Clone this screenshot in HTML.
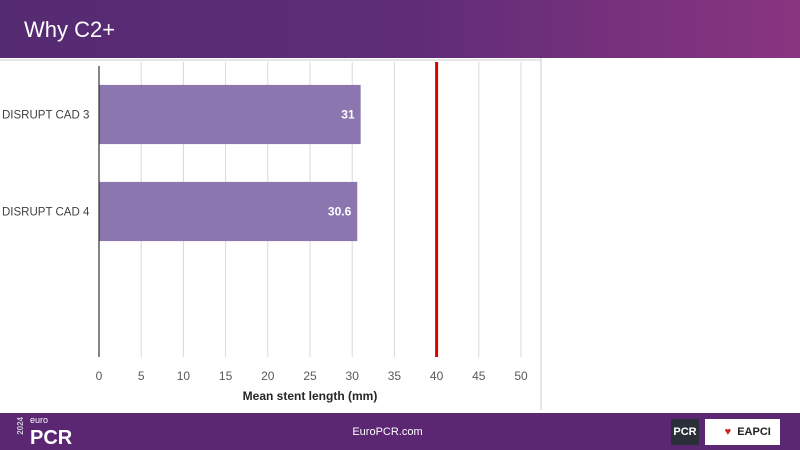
<!DOCTYPE html>
<html><head><meta charset="utf-8"><style>
body{margin:0;width:800px;height:450px;overflow:hidden;background:#fff;font-family:"Liberation Sans",sans-serif;position:relative}
#hdr{position:absolute;left:0;top:0;width:800px;height:58px;background:linear-gradient(90deg,#552b72 0%,#5e2c77 50%,#8a3580 100%)}
#hdr span{position:absolute;left:24px;top:17px;color:#fff;font-size:22px}
#ftr{position:absolute;left:0;top:413px;width:800px;height:37px;background:#5b2773}
</style></head><body>
<div id="hdr"><span>Why C2+</span></div>
<svg id="chart" width="800" height="450" style="position:absolute;left:0;top:0"></svg>
<div id="ftr">
<div style="position:absolute;left:16px;top:4px;color:#fff;font-weight:bold;font-size:20px"><span style="font-size:8px;writing-mode:vertical-rl;transform:rotate(180deg);display:inline-block;color:#ccc">2024</span><span style="font-size:9px;font-weight:normal;position:absolute;left:14px;top:-2px">euro</span><span style="position:absolute;left:14px;top:10px">PCR</span></div>
<div style="position:absolute;left:0;width:775px;text-align:center;top:13px;color:#fff;font-size:11px">EuroPCR.com</div>
<div style="position:absolute;left:671px;top:6px;width:28px;height:26px;background:#2a2f3a;color:#fff;font-size:11px;font-weight:bold;line-height:26px;text-align:center">PCR</div>
<div style="position:absolute;left:705px;top:6px;width:75px;height:26px;background:#fff;color:#222;font-size:11px;font-weight:bold;line-height:26px;text-align:right"><span style="color:#c22;margin-right:6px">♥</span>EAPCI&nbsp;&nbsp;&nbsp;</div>
</div>
<script>
const categories=["DISRUPT CAD 3","DISRUPT CAD 4",""];
const values=[31,30.6,null];
const valueLabels=["31","30.6",""];
const ticks=[0,5,10,15,20,25,30,35,40,45,50];
const refValue=40;
const NS="http://www.w3.org/2000/svg";
const svg=document.getElementById('chart');
const x0=99,x1=521,vmax=50,yTop=66,yBot=357;
const X=v=>x0+(v/vmax)*(x1-x0);
const band=(yBot-yTop)/categories.length;
const Y=i=>yTop+band*i;
function mk(t,a){const e=document.createElementNS(NS,t);for(const k in a)e.setAttribute(k,a[k]);svg.appendChild(e);return e;}
let e=mk('line',{x1:0,y1:60,x2:541,y2:60,stroke:'#ccc'});


e=mk('line',{x1:541,y1:58,x2:541,y2:410,stroke:'#ccc'});


ticks.forEach(t=>{
 if(t>0){const g=mk('line',{x1:X(t),y1:62,x2:X(t),y2:yBot,stroke:'#d9d9d9'});
 
 }
 const l=mk('text',{x:X(t),y:380,'text-anchor':'middle','font-size':12,fill:'#595959'});l.textContent=t;
 
 
});
categories.forEach((c,i)=>{
 const h=band*0.61, y=Y(i)+(band-h)/2;
 if(values[i]!=null){
  const b=mk('rect',{x:x0,y:y,width:X(values[i])-x0,height:h,fill:'#8c76b0'});
  
  
  const v=mk('text',{x:X(values[i])-6,y:y+h/2+4,'text-anchor':'end','font-size':12,'font-weight':'bold',fill:'#fff'});v.textContent=valueLabels[i];
  
  
 }
 if(c){const t=mk('text',{x:2,y:Y(i)+band/2+4,'font-size':11.5,fill:'#404040'});t.textContent=c;
 
 }
});
e=mk('line',{x1:x0,y1:66,x2:x0,y2:yBot,stroke:'#333','stroke-width':1.2});


e=mk('line',{x1:X(refValue),y1:62,x2:X(refValue),y2:yBot,stroke:'#e00000','stroke-width':3});


e=mk('text',{x:310,y:400,'text-anchor':'middle','font-size':12,'font-weight':'bold',fill:'#262626'});e.textContent='Mean stent length (mm)';


</script>
</body></html>
